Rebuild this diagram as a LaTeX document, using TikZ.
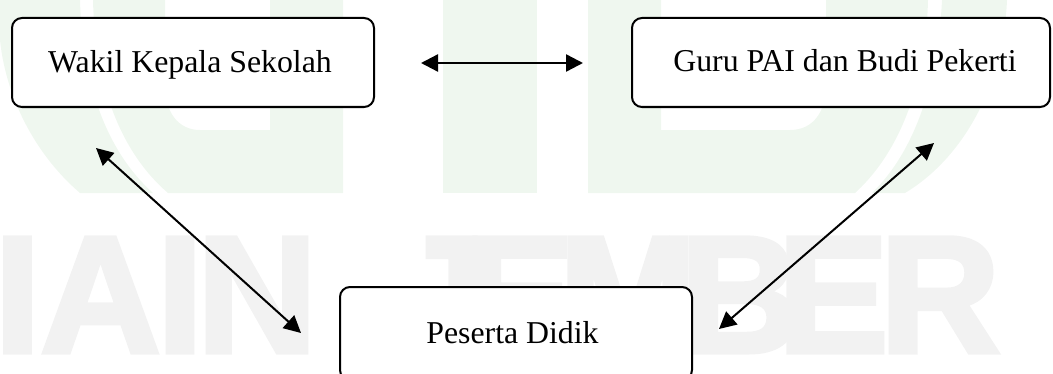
\documentclass[tikz,border=0pt]{standalone}
\usepackage{fontspec}
\setmainfont{Liberation Serif}
\newfontfamily\wmfont{Liberation Sans Bold}[FakeBold=3]
\usetikzlibrary{arrows.meta,calc}
\definecolor{wmgreen}{RGB}{239,247,239}
\definecolor{wmgray}{RGB}{242,242,242}
\tikzset{
  boxst/.style={draw=black, fill=white, line width=1pt, rounded corners=5pt, inner sep=0pt},
  txt/.style={inner sep=0pt, font=\fontsize{15.9}{19}\selectfont, anchor=base},
  wm/.style={inner sep=0pt, text=wmgray, anchor=base, font=\wmfont\fontsize{83}{83}\selectfont},
  biarrow/.style={line width=1pt, {Triangle[length=8.5pt,width=8.5pt]}-{Triangle[length=8.5pt,width=8.5pt]}}
}
\begin{document}
\begin{tikzpicture}[x=0.5pt,y=-0.5pt]
\useasboundingbox (0,0) rectangle (1053,374);
\clip (0,0) rectangle (1053,374);
% watermark: green logo shapes
\fill[wmgreen, even odd rule]
  (343,0) -- (343,193) -- (168,193) .. controls (118,150) and (95,80) .. (93,0) -- cycle
  (270,0) -- (270,130) -- (200,130) .. controls (178,130) and (165,112) .. (165,85) -- (165,0) -- cycle;
\fill[wmgreen] (0,0) -- (80,0) .. controls (82,80) and (105,150) .. (153,193) -- (80,193) .. controls (30,150) and (5,90) .. (0,40) -- cycle;
\fill[wmgreen] (443,0) rectangle (537,193);
\fill[wmgreen, even odd rule]
  (588,0) -- (588,193) -- (855,193) .. controls (902,150) and (926,80) .. (928,0) -- cycle
  (661,0) -- (661,130) -- (790,130) .. controls (813,130) and (826,112) .. (826,85) -- (826,0) -- cycle;
\fill[wmgreen] (942,0) -- (1007,0) .. controls (1003,90) and (960,160) .. (905,193) -- (872,193) .. controls (916,150) and (938,80) .. (942,0) -- cycle;
% watermark: text
\foreach \l/\x [count=\i] in {I/17.5, A/100.5, I/180, N/257, J/440, E/519, M/628, B/740.5, E/833, R/940}
  \node[wm] (wm\i) at (\x,352) {\l};
% boxes
\node[boxst, minimum width=181pt, minimum height=44.5pt] (w) at (193,62.5) {};
\node[boxst, minimum width=209pt, minimum height=44.5pt] (g) at (841,62.5) {};
\node[boxst, minimum width=176pt, minimum height=46.5pt] (p) at (516,333.5) {};
% texts
\node[txt] (wt) at (190,73) {Wakil Kepala Sekolah};
\node[txt] (gt) at (845,72) {Guru PAI dan Budi Pekerti};
\node[txt] (ptx) at (512.5,343) {Peserta Didik};
% connectors
\coordinate (h1) at ($(w.east)+(46,0.5)$);
\coordinate (h2) at ($(g.west)+(-48,0.5)$);
\coordinate (d1) at ($(w.south west)+(85,40)$);
\coordinate (d2) at ($(p.west)+(-38,-0.5)$);
\coordinate (e1) at ($(g.south east)+(-117,35)$);
\coordinate (e2) at ($(p.east)+(26,-4.5)$);
\draw[biarrow, line width=1.2pt] (h1) -- (h2);
\draw[biarrow] (d1) -- (d2);
\draw[biarrow] (e1) -- (e2);
\end{tikzpicture}
\end{document}
